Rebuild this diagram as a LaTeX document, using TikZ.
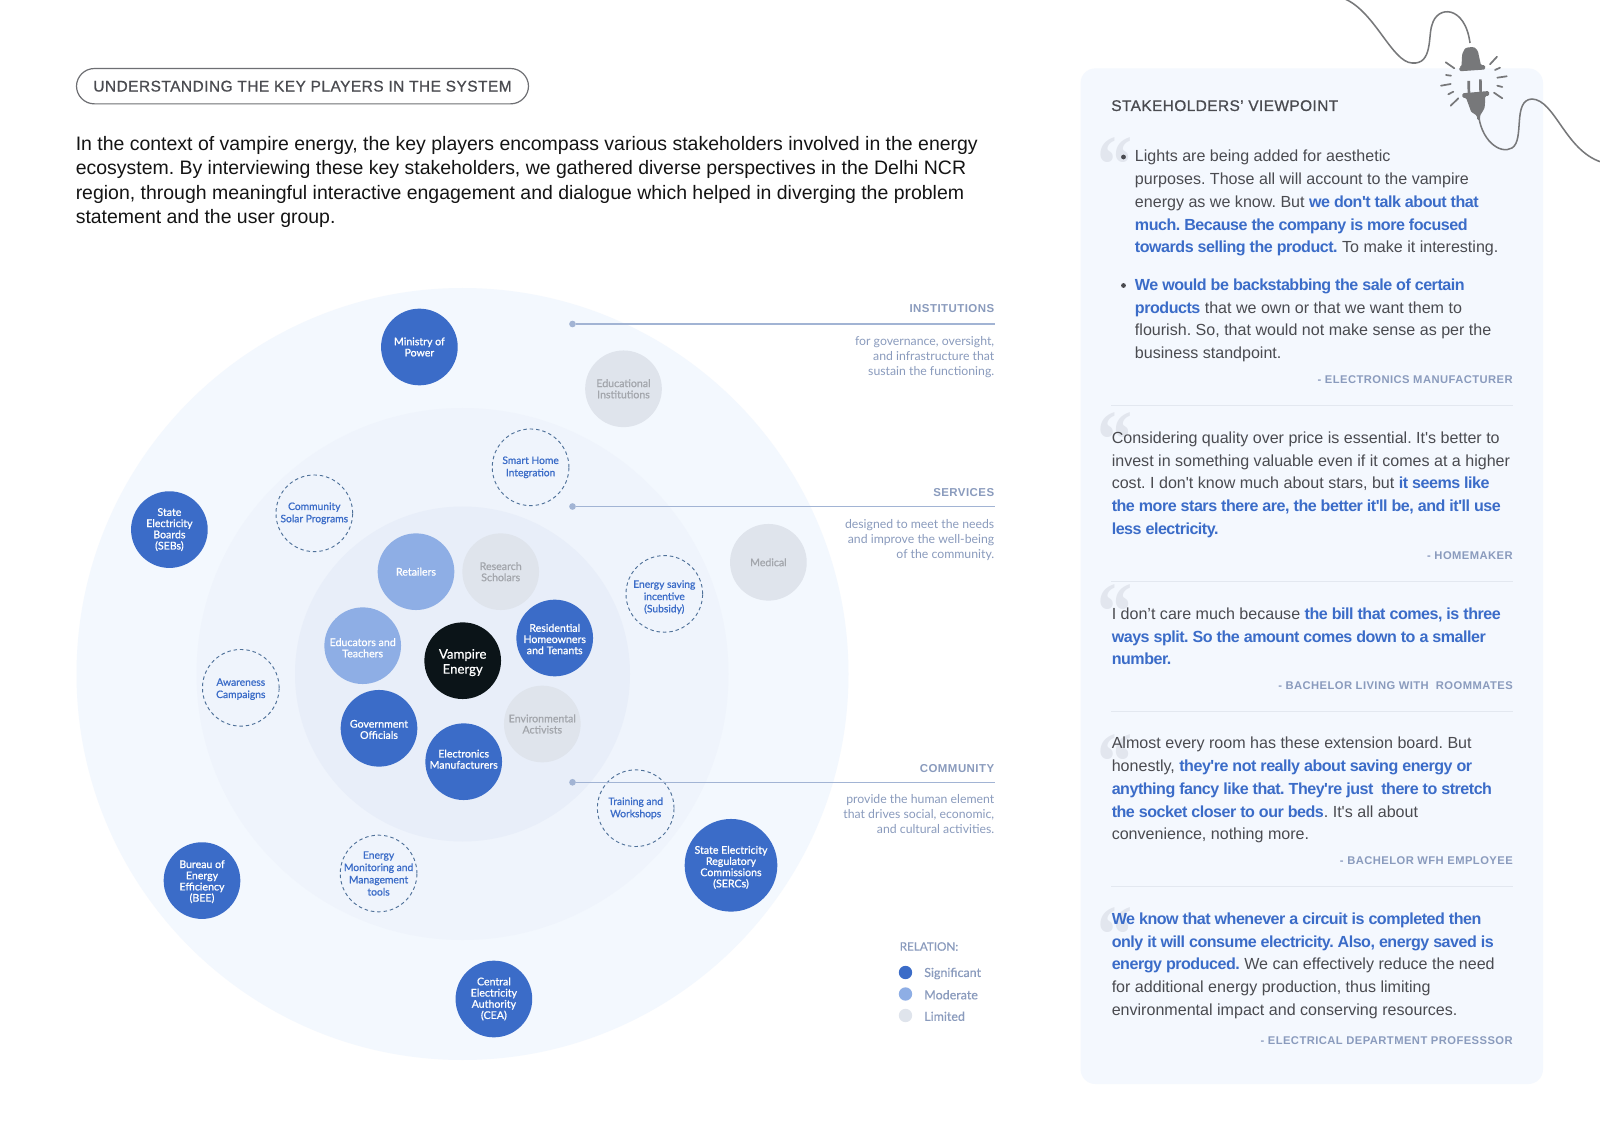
\documentclass[tikz,border=0pt]{standalone}
\usepackage{fontspec}
\setmainfont[Ligatures=TeXOff]{Liberation Sans}
\newfontfamily\quotefont{Liberation Serif}
\newfontfamily\labelfont{Lato}
\frenchspacing
\definecolor{ringA}{HTML}{F3F8FE}
\definecolor{ringB}{HTML}{EFF4FC}
\definecolor{ringC}{HTML}{E8EEF9}
\definecolor{sigblue}{HTML}{3B6CC8}
\definecolor{modblue}{HTML}{8EAEE5}
\definecolor{limgrey}{HTML}{DFE4EC}
\definecolor{limtext}{HTML}{A3A6AC}
\definecolor{dashline}{HTML}{4F7199}
\definecolor{panelbg}{HTML}{F4F8FE}
\definecolor{bodygrey}{HTML}{4A4B50}
\definecolor{labelblue}{HTML}{8A9BBD}
\definecolor{leader}{HTML}{A2B4D4}
\definecolor{rulegrey}{HTML}{E3E8F0}
\definecolor{quotegrey}{HTML}{E2E6EE}
\definecolor{plugrey}{HTML}{77787A}
\definecolor{corecol}{HTML}{0B1418}
\newcommand{\fsz}[2]{\fontsize{#1}{#2}\selectfont}
\newcommand{\hl}[1]{{\bfseries\addfontfeature{LetterSpace=-3}\color{sigblue}#1}}
% struts that nudge a label inside its disc
\newcommand{\dn}{\rule{0pt}{7.5pt}}
\newcommand{\dnn}{\rule{0pt}{9pt}}
\newcommand{\upp}{\rule[-3.8pt]{0pt}{3.8pt}}
\tikzset{
  x=0.75pt,y=-0.75pt,
  disc/.style={circle,minimum size=57.5pt,inner sep=-6pt,align=center,font=\labelfont\addfontfeature{FakeBold=0.9}\fsz{7.95}{8.4}},
  sigdisc/.style={disc,fill=sigblue,text=white},
  moddisc/.style={disc,fill=modblue,text=white},
  limdisc/.style={disc,fill=limgrey,text=limtext},
  dashdisc/.style={disc,draw=dashline,line width=0.7pt,dash pattern=on 2.6pt off 2.2pt,text=sigblue,font=\labelfont\addfontfeature{FakeBold=0.9}\fsz{7.7}{9.2}},
  heading/.style={anchor=base east,inner sep=0pt,text=labelblue,font=\bfseries\fsz{8.6}{10}},
  note/.style={anchor=north east,inner sep=0pt,align=right,text=labelblue,font=\labelfont\fsz{9.2}{11.45}},
  leaderline/.style={draw=leader,line width=1pt},
  leaderdot/.style={circle,fill=leader,minimum size=5pt,inner sep=0pt},
  quotebody/.style={anchor=north west,inner sep=0pt,align=left,text=bodygrey,font=\fsz{12.05}{17.05}},
  author/.style={anchor=base east,inner sep=0pt,text=labelblue,font=\bfseries\fsz{8.4}{10}},
  quotemark/.style={anchor=base west,inner sep=0pt,text=quotegrey,font=\quotefont\bfseries\addfontfeature{FakeStretch=0.85}\fsz{62}{62}},
  sep/.style={draw=rulegrey,line width=0.75pt},
  legendlabel/.style={anchor=west,inner sep=0pt,text=labelblue,font=\labelfont\addfontfeature{FakeBold=0.4}\fsz{9.35}{10}},
  legenddot/.style={circle,minimum size=10pt,inner sep=0pt},
  wire/.style={draw=plugrey,line width=1.15pt},
  ray/.style={draw=plugrey,line width=1.3pt,line cap=round},
}
\begin{document}
\begin{tikzpicture}
\useasboundingbox (0,0) rectangle (1600,1130);
\fill[white] (0,0) rectangle (1600,1130);

% right-hand panel
\fill[panelbg,rounded corners=11pt] (1080.6,68.4) rectangle (1543,1084);

% concentric rings
\fill[ringA] (462.5,674) circle[radius=386];
\fill[ringB] (462.5,674) circle[radius=266];
\fill[ringC] (462.5,674) circle[radius=167.5];

% title and introduction
\node[draw=bodygrey!80,line width=0.9pt,fill=white,rounded corners=13.4pt,minimum width=339pt,minimum height=26.5pt,inner sep=0pt,font=\fsz{11.6}{14},text=bodygrey] (title) at (302.5,86.2) {\addfontfeature{LetterSpace=3,FakeBold=0.8}UNDERSTANDING THE KEY PLAYERS IN THE SYSTEM};
\node[anchor=north west,inner sep=0pt,align=left,text=black!92,font=\fsz{14.6}{18.4}] (intro) at (75.5,136) {In the context of vampire energy, the key players encompass various stakeholders involved in the energy\\ecosystem. By interviewing these key stakeholders, we gathered diverse perspectives in the Delhi NCR\\region, through meaningful interactive engagement and dialogue which helped in diverging the problem\\statement and the user group.};

% outer ring
\node[sigdisc] (ministry) at (419.4,347) {Ministry of\\Power};
\node[limdisc] (educational) at (623.5,388.8) {Educational\\Institutions};
\node[sigdisc] (seb) at (169.4,529.6) {State\\Electricity\\Boards\\(SEBs)};
\node[limdisc] (medical) at (768.4,562.3) {Medical};
\node[sigdisc] (bee) at (202,880.6) {\dn Bureau of\\Energy\\Efficiency\\(BEE)};
\node[sigdisc,minimum size=69.5pt] (serc) at (731,865.3) {\dnn State Electricity\\Regulatory\\Commissions\\(SERCs)};
\node[sigdisc] (cea) at (493.9,999) {Central\\Electricity\\Authority\\(CEA)};

% middle ring
\node[dashdisc] (smarthome) at (530.6,467.3) {Smart Home\\Integration};
\node[dashdisc] (solar) at (314.3,513.3) {Community\\Solar Programs};
\node[dashdisc] (subsidy) at (664.3,593.9) {\rule{0pt}{10.5pt}Energy saving\\incentive\\(Subsidy)};
\node[dashdisc] (awareness) at (240.8,687.8) {\dn Awareness\\Campaigns};
\node[dashdisc] (training) at (635.7,808.2) {Training and\\Workshops};
\node[dashdisc] (monitoring) at (378.6,873.5) {Energy\\Monitoring and\\Management\\tools};

% inner ring
\node[moddisc] (retailers) at (416,571.7) {Retailers};
\node[limdisc] (scholars) at (500.7,571.7) {Research\\Scholars};
\node[sigdisc] (residential) at (554.7,638) {\dn Residential\\Homeowners\\and Tenants};
\node[moddisc] (educators) at (362.7,645.7) {\dnn Educators and\\Teachers};
\node[sigdisc] (officials) at (379,728.3) {\dn Government\\Officials};
\node[sigdisc] (manufacturers) at (463.7,761.7) {Electronics\\Manufacturers\upp};
\node[limdisc] (activists) at (542.3,724) {Environmental\\Activists};
\node[disc,fill=corecol,text=white,font=\labelfont\addfontfeature{FakeBold=0.6}\fsz{9.9}{11.2}] (vampire) at (462.7,660.7) {\rule{0pt}{10pt}Vampire\\Energy};

% group leaders and their captions
\node[leaderdot] (instdot) at (572.5,324) {};
\coordinate (instend) at (994.5,324);
\draw[leaderline] (instdot) -- (instend);
\node[heading] (insthead) at (994.5,313) {\addfontfeature{LetterSpace=4}INSTITUTIONS};
\node[note] (instnote) at (994.5,336) {for governance, oversight,\\and infrastructure that\\sustain the functioning.};

\node[leaderdot] (servdot) at (572.5,506.5) {};
\coordinate (servend) at (994.5,506.5);
\draw[leaderline] (servdot) -- (servend);
\node[heading] (servhead) at (994.5,497) {\addfontfeature{LetterSpace=4}SERVICES};
\node[note] (servnote) at (994.5,519) {designed to meet the needs\\and improve the well-being\\of the community.};

\node[leaderdot] (commdot) at (572.5,782.3) {};
\coordinate (commend) at (994.5,782.3);
\draw[leaderline] (commdot) -- (commend);
\node[heading] (commhead) at (994.5,772.5) {\addfontfeature{LetterSpace=4}COMMUNITY};
\node[note] (commnote) at (994.5,794) {provide the human element\\that drives social, economic,\\and cultural activities.};

% legend
\node[anchor=west,inner sep=0pt,text=labelblue,font=\labelfont\addfontfeature{FakeBold=0.4}\fsz{8.75}{10}] (relation) at (899.5,946.5) {RELATION:};
\node[legenddot,fill=sigblue] (legsig) at (905.5,972.5) {};
\node[legenddot,fill=modblue] (legmod) at (905.5,994) {};
\node[legenddot,fill=limgrey] (leglim) at (905.5,1015.5) {};
\node[legendlabel] (txtsig) at (924,973.5) {Significant};
\node[legendlabel] (txtmod) at (924,994.8) {Moderate};
\node[legendlabel] (txtlim) at (924,1016.3) {Limited};

% stakeholder quotes
\node[anchor=base west,inner sep=0pt,text=bodygrey,font=\fsz{11.6}{14}] (viewpoint) at (1111,111) {\addfontfeature{LetterSpace=2.5,FakeBold=0.8}STAKEHOLDERS’ VIEWPOINT};

\node[quotemark] (qa) at (1097.5,193) {“};
\node[circle,fill=bodygrey,minimum size=3.6pt,inner sep=0pt] (bulleta) at (1123.5,157) {};
\node[quotebody] (para) at (1134.7,150) {Lights are being added for aesthetic\\purposes. Those all will account to the vampire\\energy as we know. But \hl{we don't talk about that}\\\hl{much. Because the company is more focused}\\\hl{towards selling the product.} To make it interesting.};
\node[circle,fill=bodygrey,minimum size=3.6pt,inner sep=0pt] (bulletb) at (1123.5,285.5) {};
\node[quotebody] (parb) at (1134.7,278.5) {\hl{We would be backstabbing the sale of certain}\\\hl{products} that we own or that we want them to\\flourish. So, that would not make sense as per the\\business standpoint.};
\node[author] (autha) at (1513,384) {\addfontfeature{LetterSpace=4}- ELECTRONICS MANUFACTURER};
\coordinate (sepaL) at (1111,405.5); \coordinate (sepaR) at (1513,405.5);
\draw[sep] (sepaL) -- (sepaR);

\node[quotemark] (qb) at (1097.5,467.7) {“};
\node[quotebody] (parc) at (1111.5,431.5) {Considering quality over price is essential. It's better to\\invest in something valuable even if it comes at a higher\\cost. I don't know much about stars, but \hl{it seems like}\\\hl{the more stars there are, the better it'll be, and it'll use}\\\hl{less electricity.}};
\node[author] (authb) at (1513,559) {\addfontfeature{LetterSpace=4}- HOMEMAKER};
\coordinate (sepbL) at (1111,581.5); \coordinate (sepbR) at (1513,581.5);
\draw[sep] (sepbL) -- (sepbR);

\node[quotemark] (qc) at (1097.5,639) {“};
\node[quotebody] (pard) at (1111.5,607.5) {I don’t care much because \hl{the bill that comes, is three}\\\hl{ways split. So the amount comes down to a smaller}\\\hl{number.}};
\node[author] (authc) at (1513,689) {\addfontfeature{LetterSpace=4}- BACHELOR LIVING WITH\ \ ROOMMATES};
\coordinate (sepcL) at (1111,711); \coordinate (sepcR) at (1513,711);
\draw[sep] (sepcL) -- (sepcR);

\node[quotemark] (qd) at (1097.5,789) {“};
\node[quotebody] (pare) at (1111.5,737) {Almost every room has these extension board. But\\honestly, \hl{they're not really about saving energy or}\\\hl{anything fancy like that. They're just\ \ there to stretch}\\\hl{the socket closer to our beds}. It's all about\\convenience, nothing more.};
\node[author] (authd) at (1513,864) {\addfontfeature{LetterSpace=4}- BACHELOR WFH EMPLOYEE};
\coordinate (sepdL) at (1111,886); \coordinate (sepdR) at (1513,886);
\draw[sep] (sepdL) -- (sepdR);

\node[quotemark] (qe) at (1097.5,962.7) {“};
\node[quotebody] (parf) at (1111.5,912.5) {\hl{We know that whenever a circuit is completed then}\\\hl{only it will consume electricity. Also, energy saved is}\\\hl{energy produced.} We can effectively reduce the need\\for additional energy production, thus limiting\\environmental impact and conserving resources.};
\node[author] (authe) at (1513,1044) {\addfontfeature{LetterSpace=4}- ELECTRICAL DEPARTMENT PROFESSSOR};

% plug and cord
\begin{scope}
\clip (0,0) rectangle (1600,1130);
\draw[wire] (1345,-1) .. controls (1375,12) and (1392,62) .. (1412,63) .. controls (1433,65) and (1428,35) .. (1432,25) .. controls (1437,5) and (1465,5) .. (1470,43);
\draw[wire] (1478.3,112) .. controls (1480,140) and (1500,155) .. (1512,148) .. controls (1525,140) and (1512,100) .. (1532,99) .. controls (1555,100) and (1565,150) .. (1601,162);
% upper plug body
\fill[plugrey,rounded corners=1pt] (1459.3,67) -- (1461.3,66.7) .. controls (1462,60) and (1461.8,55) .. (1463,52.5) .. controls (1464,50) and (1465,48.5) .. (1467,47.5) -- (1473.5,47) .. controls (1476.5,48.5) and (1478,51) .. (1478.5,54) -- (1481,65.3) -- (1485,65) -- (1485.3,69.5) -- (1459.5,71.3) -- cycle;
% lower plug body and prongs
\fill[plugrey,rounded corners=1pt] (1462.3,93.3) -- (1489,91) -- (1489.3,95.7) -- (1485.2,96) .. controls (1485,103) and (1485,107) .. (1483.5,110) .. controls (1482,112.5) and (1481,114) .. (1480,115.5) -- (1480,120) -- (1477,120) -- (1477,115.5) .. controls (1473,113.5) and (1471,111.5) .. (1470.5,110) -- (1466,97.7) -- (1462.5,97.9) -- cycle;
\fill[plugrey] (1467.3,81) -- (1470,81) -- (1470.3,94) -- (1467.6,94) -- cycle;
\fill[plugrey] (1479,79.3) -- (1481.7,79.3) -- (1482,93) -- (1479.3,93) -- cycle;
\draw[ray] (1445.7,62.3) -- (1454.3,68.3);
\draw[ray] (1446,75) -- (1451,75.7);
\draw[ray] (1441,85.7) -- (1450.7,84);
\draw[ray] (1448.3,94.3) -- (1453.3,91.7);
\draw[ray] (1450.7,105.7) -- (1458.3,98.3);
\draw[ray] (1490,64.3) -- (1497,56.7);
\draw[ray] (1495,70) -- (1500,67.7);
\draw[ray] (1497.3,77.7) -- (1506.7,76.3);
\draw[ray] (1497.3,85.7) -- (1502.3,87);
\draw[ray] (1494,92.7) -- (1502.3,98.3);
\end{scope}
\end{tikzpicture}
\end{document}
